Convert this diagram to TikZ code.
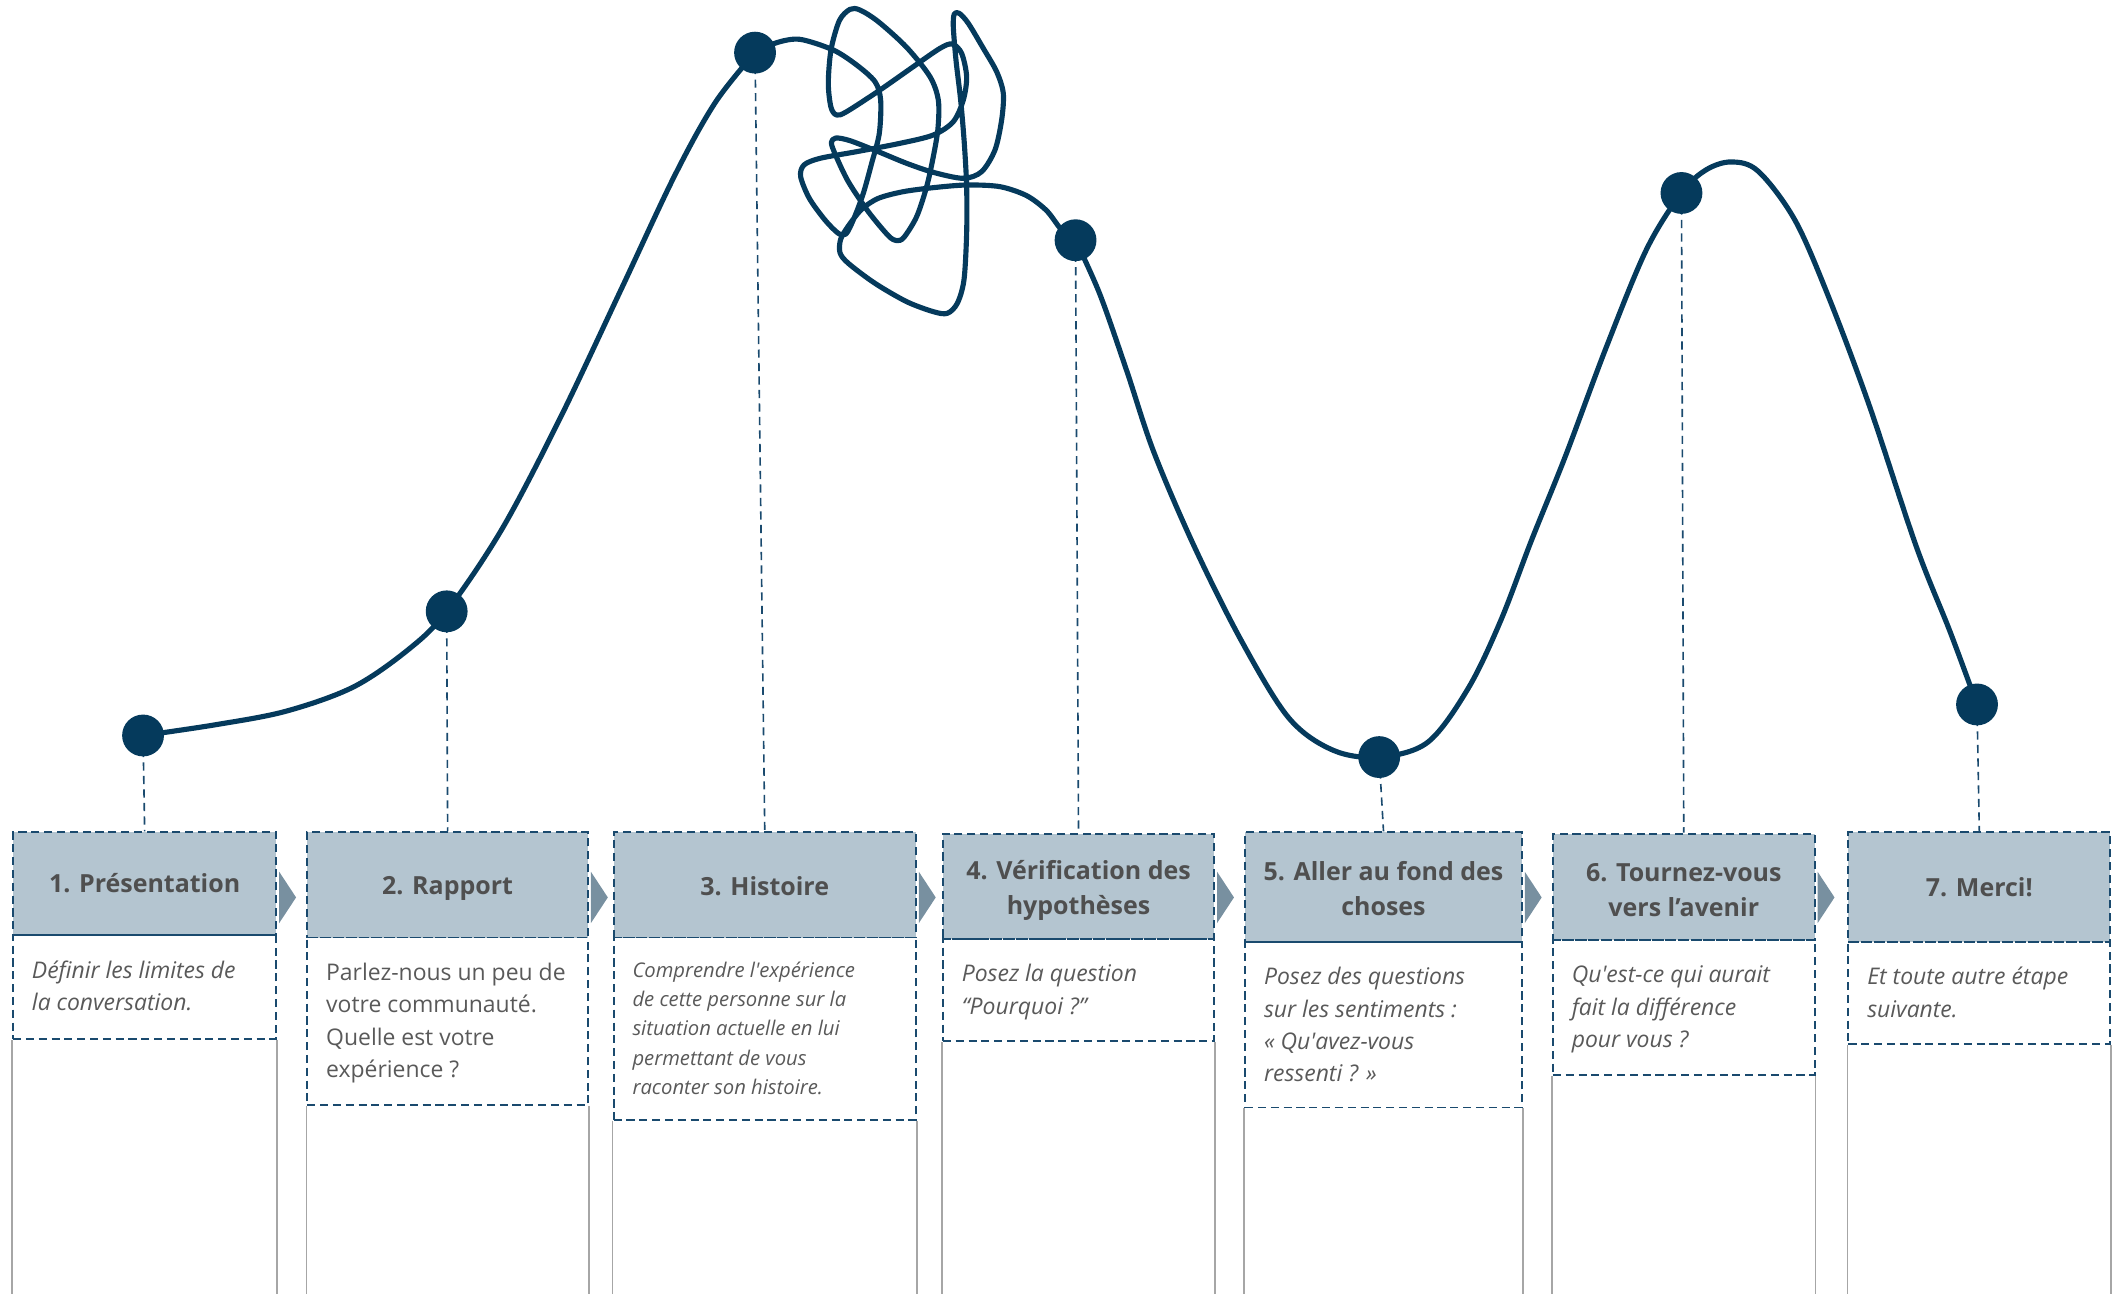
\documentclass[tikz,border=0pt]{standalone}
\usepackage{fontspec}
\setmainfont{Open Sans}
\usetikzlibrary{calc}
\definecolor{navy}{HTML}{053A5C}
\definecolor{dashnavy}{HTML}{1A4A6E}
\definecolor{hdrfill}{HTML}{B4C5D0}
\definecolor{chevc}{HTML}{7890A0}
\definecolor{linegray}{HTML}{A6A6A6}
\definecolor{titlec}{HTML}{4F4F4F}
\definecolor{bodyc}{HTML}{595959}
\newcommand{\apo}{\textquotesingle}
\tikzset{
 curve/.style={line width=3.8pt, draw=navy, line cap=round, line join=round},
 dotn/.style={circle, fill=navy, minimum size=31pt, inner sep=0pt},
 guide/.style={draw=dashnavy, line width=1.2pt, dash pattern=on 6pt off 4pt},
 hdr/.style={anchor=north west, fill=hdrfill, draw=dashnavy, line width=1.4pt, dash pattern=on 6pt off 3.5pt, inner sep=0pt},
 ttl/.style={inner sep=0pt, align=center, text=titlec, font=\fontsize{18.5}{26}\selectfont\bfseries},
 tbox/.style={anchor=north west, draw=dashnavy, line width=1.4pt, dash pattern=on 6pt off 3.5pt, inner sep=0pt},
 body/.style={anchor=north west, inner sep=0pt, align=left, text=bodyc, font=\fontsize{17}{24}\selectfont},
 grayl/.style={draw=linegray, line width=1.2pt},
 chev/.style={fill=chevc}
}
\begin{document}
\begin{tikzpicture}[x=1pt,y=-1pt]
\useasboundingbox (0,0) rectangle (1568,959);

% ---------- columns ----------
\node[hdr, minimum width=195pt, minimum height=76pt] (h1) at (9,616) {};
\node[tbox, minimum width=195pt, minimum height=77pt] (t1) at (9,692) {};
\node[hdr, minimum width=208pt, minimum height=78pt] (h2) at (227,616) {};
\node[tbox, minimum width=208pt, minimum height=124pt] (t2) at (227,694) {};
\node[hdr, minimum width=224pt, minimum height=78pt] (h3) at (454,616) {};
\node[tbox, minimum width=224pt, minimum height=135pt] (t3) at (454,694) {};
\node[hdr, minimum width=201pt, minimum height=78pt] (h4) at (698,617) {};
\node[tbox, minimum width=201pt, minimum height=76pt] (t4) at (698,695) {};
\node[hdr, minimum width=205pt, minimum height=81pt] (h5) at (922,616) {};
\node[tbox, minimum width=205pt, minimum height=123pt] (t5) at (922,697) {};
\node[hdr, minimum width=194pt, minimum height=79pt] (h6) at (1150,617) {};
\node[tbox, minimum width=194pt, minimum height=100pt] (t6) at (1150,696) {};
\node[hdr, minimum width=194pt, minimum height=81pt] (h7) at (1369,616) {};
\node[tbox, minimum width=194pt, minimum height=76pt] (t7) at (1369,697) {};

% titles
\node[ttl] (tt1) at ($(h1.center)+(0,0)$) {1. Présentation};
\node[ttl] (tt2) at ($(h2.center)+(0,3)$) {2. Rapport};
\node[ttl] (tt3) at ($(h3.center)+(0,1)$) {3. Histoire};
\node[ttl] (tt4) at ($(h4.center)+(0,3)$) {4. Vérification des\\hypothèses};
\node[ttl] (tt5) at ($(h5.center)+(0,1.5)$) {5. Aller au fond des\\choses};
\node[ttl] (tt6) at ($(h6.center)+(0,2.5)$) {6. Tournez-vous\\vers l’avenir};
\node[ttl] (tt7) at ($(h7.center)+(0,0)$) {7. Merci!};

% body texts
\node[body] (b1) at ($(t1.north west)+(14.5,19.5)$) {\itshape Définir les limites de\\\itshape la conversation.};
\node[body] (b2) at ($(t2.north west)+(14.5,19.5)$) {Parlez-nous un peu de\\votre communauté.\\Quelle est votre\\expérience ?};
\node[body, font=\fontsize{15}{21.7}\selectfont] (b3) at ($(t3.north west)+(14.5,18.5)$) {\itshape Comprendre l\apo expérience\\\itshape de cette personne sur la\\\itshape situation actuelle en lui\\\itshape permettant de vous\\\itshape raconter son histoire.};
\node[body] (b4) at ($(t4.north west)+(14.5,19.5)$) {\itshape Posez la question\\\itshape “Pourquoi ?”};
\node[body] (b5) at ($(t5.north west)+(14.5,19.5)$) {\itshape Posez des questions\\\itshape sur les sentiments :\\\itshape « Qu\apo avez-vous\\\itshape ressenti ? »};
\node[body] (b6) at ($(t6.north west)+(14.5,19.5)$) {\itshape Qu\apo est-ce qui aurait\\\itshape fait la différence\\\itshape pour vous ?};
\node[body] (b7) at ($(t7.north west)+(14.5,19.5)$) {\itshape Et toute autre étape\\\itshape suivante.};

% gray column lines
\foreach \i in {1,...,7}{
  \draw[grayl] (t\i.south west) -- (t\i.south west |- 0,959);
  \draw[grayl] (t\i.south east) -- (t\i.south east |- 0,959);
}

% chevrons
\foreach \i in {1,...,6}{
  \fill[chev] (h\i.north east |- 0,665) ++(1.5,-19) -- ++(12.5,19) -- ++(-12.5,19) -- cycle;
}

% ---------- curve points ----------
\coordinate (p1) at (106,545);
\coordinate (p2) at (331,453);
\coordinate (p3) at (559.5,39);
\coordinate (p4) at (797,178);
\coordinate (p5) at (1022,561);
\coordinate (p6) at (1246,143);
\coordinate (p7) at (1465,522);

% guides
\foreach \i in {1,...,7}{
  \draw[guide] (p\i) -- (h\i.north);
}

% curve segment 1
\draw[curve] plot[smooth, tension=0.55] coordinates {(p1) (160,537) (212,527) (262,509) (303,481) (p2) (372,392) (415,310) (460,215) (500,130) (530,76) (p3)};
% tangle
\begin{scope}[shift={(518.7,0)}, scale=0.247]
\draw[curve] plot[smooth, tension=0.5] coordinates {
(165,158) (230,128) (300,118) (400,150) (470,195) (525,245) (542,300) (538,400) (515,490) (490,580) (462,655) (438,702)
(415,700) (375,660) (328,595) (302,530) (312,495) (360,475) (470,455) (600,430) (700,405) (760,365) (790,300) (800,230) (785,160) (757,132) (720,145) (640,200) (540,270) (440,335) (410,345)
(393,322) (385,250) (393,150) (418,62) (450,28) (480,30) (535,65) (620,142) (690,230) (715,300) (714,385) (700,470) (680,560) (650,650) (612,712) (590,722)
(565,707) (505,635) (445,545) (408,468) (394,428) (408,414) (450,422) (530,453) (620,490) (700,517) (790,535)
(845,515) (885,450) (905,360) (910,280) (890,215) (850,145) (805,70) (778,40) (763,42) (760,80) (768,180) (782,300) (793,430) (800,560) (800,700) (792,840) (772,910) (742,940) (700,935) (620,905) (525,850) (445,790) (420,758) (422,718) (445,678) (485,628) (535,595) (610,575) (700,563) (800,555) (900,560) (980,587) (1040,632) (1085,690) (1127,722)};
\end{scope}
% curve segment 3
\draw[curve] plot[smooth, tension=0.55] coordinates {(p4) (815,218) (835,275) (855,335) (885,405) (920,475) (955,532) (988,556) (p5) (1058,550) (1088,510) (1112,460) (1135,400) (1160,338) (1190,258) (1220,185) (p6) (1264,126) (1283,120) (1303,127) (1330,163) (1355,220) (1385,300) (1420,405) (1445,468) (p7)};

% dots
\foreach \i in {1,...,7}{
  \node[dotn] (d\i) at (p\i) {};
}
\end{tikzpicture}
\end{document}
